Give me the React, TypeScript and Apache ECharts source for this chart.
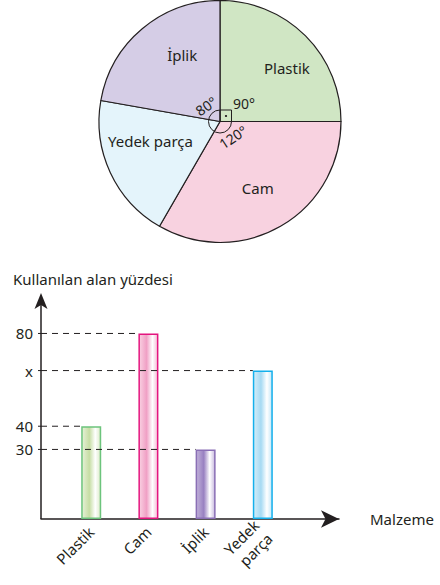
import React, { useEffect, useRef } from "react";
import * as echarts from "echarts";

// ---- data ----
const pieNames = ["Plastik", "Cam", "Yedek parça", "İplik"];
const pieDegrees = [90, 120, 70, 80];

const categories = ["Plastik", "Cam", "İplik", "Yedek parça"];
const barLabels = ["Plastik", "Cam", "İplik", "Yedek\nparça"];
const barValues = [40, 80, 30, 64];
const yTickValues = [30, 40, 64, 80];
const yTickLabels = ["30", "40", "x", "80"];

const yTitle = "Kullanılan alan yüzdesi";
const xTitle = "Malzeme";

// ---- styles / layout ----
const FONT = "Noto Sans";
const INK = "#231f20";
const pieColors: Record<string, string> = {
  Plastik: "#d0e6c4",
  Cam: "#f8d2e0",
  "Yedek parça": "#e4f4fb",
  İplik: "#d5cde6",
};
const pieLabelOffset: Record<string, number[]> = {
  Plastik: [22, -9],
  Cam: [6, 12],
  "Yedek parça": [-12, -7],
  İplik: [3, -18],
};
const barStyles: Record<string, { border: string; stops: string[] }> = {
  Plastik: { border: "#6cc47c", stops: ["#e6f1d8", "#c6dda4", "#ffffff", "#dcebc8"] },
  Cam: { border: "#e4157f", stops: ["#f9d1e2", "#f0a0c5", "#ffffff", "#f5bcd6"] },
  İplik: { border: "#8a6fb5", stops: ["#c2b2da", "#9880c1", "#ffffff", "#c7b9de"] },
  "Yedek parça": { border: "#14b0ec", stops: ["#d4eef9", "#a6daf3", "#ffffff", "#c2e6f7"] },
};

const PIE_CX = 220;
const PIE_CY = 121.5;
const PIE_R = 121;
const BAR_W = 20;
const SLOT_OFFSET = 0.878; // first category's distance from the y axis, in slot units
const X_MIN = 0;
const X_MAX = 5.21;
const Y_MAX = 94;
const ARROW_W = 13;
const ARROW_H = 16;

export default function App() {
  const ref = useRef<HTMLDivElement>(null);

  useEffect(() => {
    if (!ref.current) return;
    const chart = echarts.init(ref.current, undefined, { renderer: "svg" });

    const pieData = pieNames.map((n, i) => ({
      name: n,
      value: pieDegrees[i],
      itemStyle: { color: pieColors[n] },
      label: { offset: pieLabelOffset[n] },
    }));

    const deg = (n: string) => pieDegrees[pieNames.indexOf(n)];
    const slotPos = categories.map((_, i) => i + SLOT_OFFSET);

    const barData = categories.map((c, i) => {
      const s = barStyles[c];
      return {
        value: [slotPos[i], barValues[i]],
        itemStyle: {
          color: new echarts.graphic.LinearGradient(0, 0, 1, 0, [
            { offset: 0, color: s.stops[0] },
            { offset: 0.4, color: s.stops[1] },
            { offset: 0.72, color: s.stops[2] },
            { offset: 1, color: s.stops[3] },
          ]),
          borderColor: s.border,
          borderWidth: 1.5,
        },
      };
    });

    const angleText = (text: string, x: number, y: number, rotation: number) => ({
      type: "text",
      x,
      y,
      rotation,
      z: 20,
      style: {
        text,
        fontSize: 14,
        fontFamily: FONT,
        fill: INK,
        align: "center",
        verticalAlign: "middle",
      },
    });

    const pieMarks = [
      angleText(`${deg("İplik")}°`, 206, 106, 0.6),
      angleText(`${deg("Plastik")}°`, 244, 103, 0),
      angleText(`${deg("Cam")}°`, 233, 137, 0.58),
      {
        type: "rect",
        shape: { x: PIE_CX, y: PIE_CY - 11.5, width: 11.5, height: 11.5 },
        style: { fill: "none", stroke: INK, lineWidth: 1 },
        z: 10,
      },
      {
        type: "circle",
        shape: { cx: PIE_CX + 6, cy: PIE_CY - 5.5, r: 1.1 },
        style: { fill: INK },
        z: 10,
      },
      {
        type: "arc",
        shape: { cx: PIE_CX, cy: PIE_CY, r: 11.5, startAngle: 0, endAngle: Math.PI * 1.5, clockwise: true },
        style: { fill: "none", stroke: INK, lineWidth: 1 },
        z: 10,
      },
    ];

    const option: any = {
      animation: false,
      title: {
        text: yTitle,
        left: 8,
        top: 266,
        textStyle: { fontFamily: FONT, fontSize: 15, fontWeight: "normal", color: INK },
      },
      grid: { left: 41, right: 101, top: 301, bottom: 66, containLabel: false },
      xAxis: {
        type: "value",
        min: X_MIN,
        max: X_MAX,
        name: xTitle,
        nameLocation: "end",
        nameGap: 31,
        nameTextStyle: { fontFamily: FONT, fontSize: 15, color: INK },
        splitLine: { show: false },
        axisLine: {
          show: true,
          lineStyle: { color: INK, width: 1.5 },
          symbol: ["none", "arrow"],
          symbolSize: [13, 18],
        },
        axisTick: { show: false },
        axisLabel: {
          customValues: slotPos,
          formatter: (v: number) => barLabels[Math.round(v - SLOT_OFFSET)] ?? "",
          rotate: 45,
          margin: 10,
          fontFamily: FONT,
          fontSize: 15,
          color: INK,
          lineHeight: 19,
        },
      },
      yAxis: {
        type: "value",
        min: 0,
        max: Y_MAX,
        splitLine: { show: false },
        axisLine: { show: false },
        axisTick: { show: false },
        axisLabel: {
          customValues: yTickValues,
          formatter: (v: number) => {
            const k = yTickValues.indexOf(v);
            return k >= 0 ? yTickLabels[k] : "";
          },
          margin: 8,
          fontFamily: FONT,
          fontSize: 15,
          color: INK,
        },
      },
      graphic: pieMarks,
      series: [
        {
          type: "pie",
          center: [PIE_CX, PIE_CY],
          radius: PIE_R,
          startAngle: 90,
          clockwise: true,
          silent: true,
          itemStyle: { borderColor: INK, borderWidth: 1.2 },
          label: {
            show: true,
            position: "inside",
            formatter: "{b}",
            fontFamily: FONT,
            fontSize: 15,
            color: INK,
          },
          labelLine: { show: false },
          emphasis: { disabled: true },
          data: pieData,
        },
        {
          type: "bar",
          barWidth: BAR_W,
          data: barData,
          z: 2,
        },
        {
          type: "custom",
          z: 5,
          clip: false,
          silent: true,
          data: categories.map((_, i) => [slotPos[i], barValues[i]]),
          renderItem: (params: any, api: any) => {
            const pt = api.coord([api.value(0), api.value(1)]);
            const x0 = params.coordSys.x;
            return {
              type: "group",
              children: [
                {
                  type: "line",
                  shape: { x1: x0, y1: pt[1], x2: pt[0] - BAR_W / 2, y2: pt[1] },
                  style: { stroke: INK, lineWidth: 1, lineDash: [6, 5] },
                },
                {
                  type: "line",
                  shape: { x1: x0 - 3, y1: pt[1], x2: x0, y2: pt[1] },
                  style: { stroke: INK, lineWidth: 1 },
                },
              ],
            };
          },
        },
      ],
    };

    chart.setOption(option);

    // y axis line + arrow head, positioned through the chart's own scales
    const base = chart.convertToPixel({ gridIndex: 0 }, [X_MIN, 0]) as number[];
    const top = chart.convertToPixel({ gridIndex: 0 }, [X_MIN, Y_MAX]) as number[];
    if (base && top) {
      const x0 = base[0];
      chart.setOption({
        graphic: [
          ...pieMarks,
          {
            type: "line",
            z: 100,
            shape: { x1: x0, y1: base[1], x2: x0, y2: top[1] + 2 },
            style: { stroke: INK, lineWidth: 1.5 },
          },
          {
            type: "polygon",
            z: 100,
            shape: {
              points: [
                [x0, top[1] - ARROW_H / 2],
                [x0 + ARROW_W / 2, top[1] + ARROW_H / 2],
                [x0, top[1] + ARROW_H / 4],
                [x0 - ARROW_W / 2, top[1] + ARROW_H / 2],
              ],
            },
            style: { fill: INK },
          },
        ],
      });
    }

    return () => chart.dispose();
  }, []);

  return (
    <div
      ref={ref}
      style={{ position: "fixed", left: 0, top: 0, width: 440, height: 585, background: "#fff" }}
    />
  );
}
